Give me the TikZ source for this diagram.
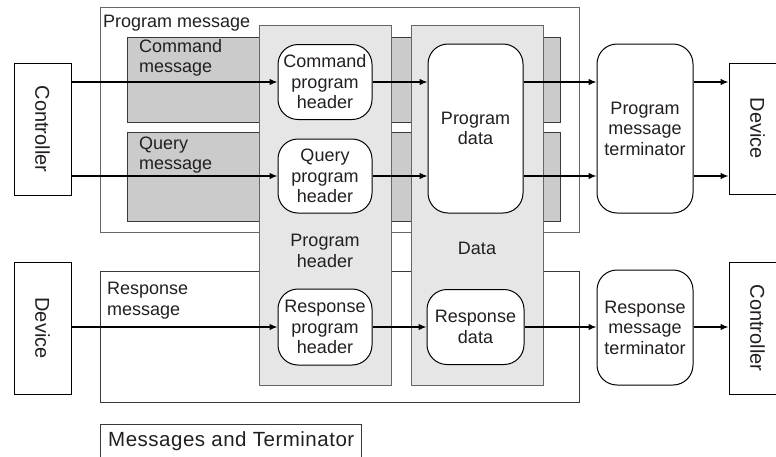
\documentclass[tikz,border=0pt]{standalone}
\usepackage{fontspec}
\setmainfont{Liberation Sans}
\newfontfamily\legfont{Liberation Sans}[LetterSpace=2.5]
\usetikzlibrary{arrows.meta}
\definecolor{darkfill}{HTML}{CBCBCB}
\definecolor{lightfill}{HTML}{E6E6E6}
\definecolor{frame}{HTML}{666666}
\definecolor{darkframe}{HTML}{3A3A3A}
\definecolor{txt}{HTML}{231F20}
\begin{document}
\begin{tikzpicture}[x=1pt,y=-1pt,
  fnt/.style={font=\fontsize{18}{20.5}\selectfont, text=txt},
  rnode/.style={draw=black, fill=white, line width=1pt, rounded corners=20pt, align=center, inner sep=0pt, fnt},
  sbox/.style={draw=black, fill=white, line width=1pt, inner sep=0pt, text=txt, font=\fontsize{20}{22}\selectfont},
  arr/.style={line width=1.2pt, -{Latex[length=8pt,width=6.5pt]}},
  lbl/.style={inner sep=0pt, align=left, fnt},
  outerbox/.style={draw=frame, line width=1pt},
  msgbox/.style={draw=darkframe, fill=darkfill, line width=0.9pt},
  colbox/.style={draw=frame, fill=lightfill, line width=1pt}]
\useasboundingbox (0,0) rectangle (776,456);
\clip (0,0) rectangle (776,456);
% group frames
\draw[outerbox] (100,7) rectangle (579,232);
\draw[msgbox] (127,37) rectangle (560,122);
\draw[msgbox] (127,132) rectangle (560,221);
\draw[outerbox, draw=darkframe] (100,271) rectangle (579,402);
\draw[colbox] (259,25) rectangle (391,385);
\draw[colbox] (411,25) rectangle (543,385);
% group labels
\node[lbl, anchor=base west] (lpm) at (103,27) {Program message};
\node[lbl, anchor=north west] (lcm) at (139,39) {Command\\message};
\node[lbl, anchor=north west] (lqm) at (139,136.5) {Query\\message};
\node[lbl, anchor=north west] (lrm) at (107,282) {Response\\message};
\node[lbl, align=center, anchor=north] (lph) at (325,234) {Program\\header};
\node[lbl, anchor=base] (ld) at (477,254) {Data};
% legend box
\draw[darkframe, line width=1pt] (100,470) -- (100,424) -- (361,424) -- (361,470);
\node[inner sep=0pt, anchor=base west, text=txt, font=\legfont\fontsize{20.5}{22}\selectfont] (leg) at (108,446.5) {Messages and Terminator};
% end boxes
\node[sbox, minimum width=57pt, minimum height=132pt] (ctrlL) at (42.5,129) {\rotatebox{-90}{Controller}};
\node[sbox, minimum width=57pt, minimum height=132pt] (devL) at (42.5,328) {\rotatebox{-90}{Device}};
\node[sbox, minimum width=57pt, minimum height=131pt] (devR) at (757.5,128.5) {\rotatebox{-90}{Device}};
\node[sbox, minimum width=57pt, minimum height=132pt] (ctrlR) at (757.5,328) {\rotatebox{-90}{Controller}};
% rounded nodes
\node[rnode, minimum width=94pt, minimum height=75pt] (cph) at (325,82) {Command\\program\\header};
\node[rnode, minimum width=94pt, minimum height=74pt] (qph) at (325,176) {Query\\program\\header};
\node[rnode, minimum width=94pt, minimum height=76pt] (rph) at (325,327) {Response\\program\\header};
\node[rnode, minimum width=95pt, minimum height=169pt] (pdata) at (475.5,128.5) {Program\\data};
\node[rnode, minimum width=97pt, minimum height=75pt] (rdata) at (475.5,327) {Response\\data};
\node[rnode, minimum width=96pt, minimum height=169pt] (pmt) at (645,128.5) {Program\\message\\terminator};
\node[rnode, minimum width=96pt, minimum height=115pt] (rmt) at (645,327.5) {Response\\message\\terminator};
% connectors
\draw[arr] (ctrlL.east |- cph.west) -- (cph.west);
\draw[arr] (ctrlL.east |- qph.west) -- (qph.west);
\draw[arr] (cph.east) -- (cph.east -| pdata.west);
\draw[arr] (qph.east) -- (qph.east -| pdata.west);
\draw[arr] (pdata.east |- cph.east) -- (pmt.west |- cph.east);
\draw[arr] (pdata.east |- qph.east) -- (pmt.west |- qph.east);
\draw[arr] (pmt.east |- cph.east) -- (devR.west |- cph.east);
\draw[arr] (pmt.east |- qph.east) -- (devR.west |- qph.east);
\draw[arr] (devL.east |- rph.west) -- (rph.west);
\draw[arr] (rph.east) -- (rph.east -| rdata.west);
\draw[arr] (rdata.east |- rph.east) -- (rmt.west |- rph.east);
\draw[arr] (rmt.east |- rph.east) -- (ctrlR.west |- rph.east);
\end{tikzpicture}
\end{document}
